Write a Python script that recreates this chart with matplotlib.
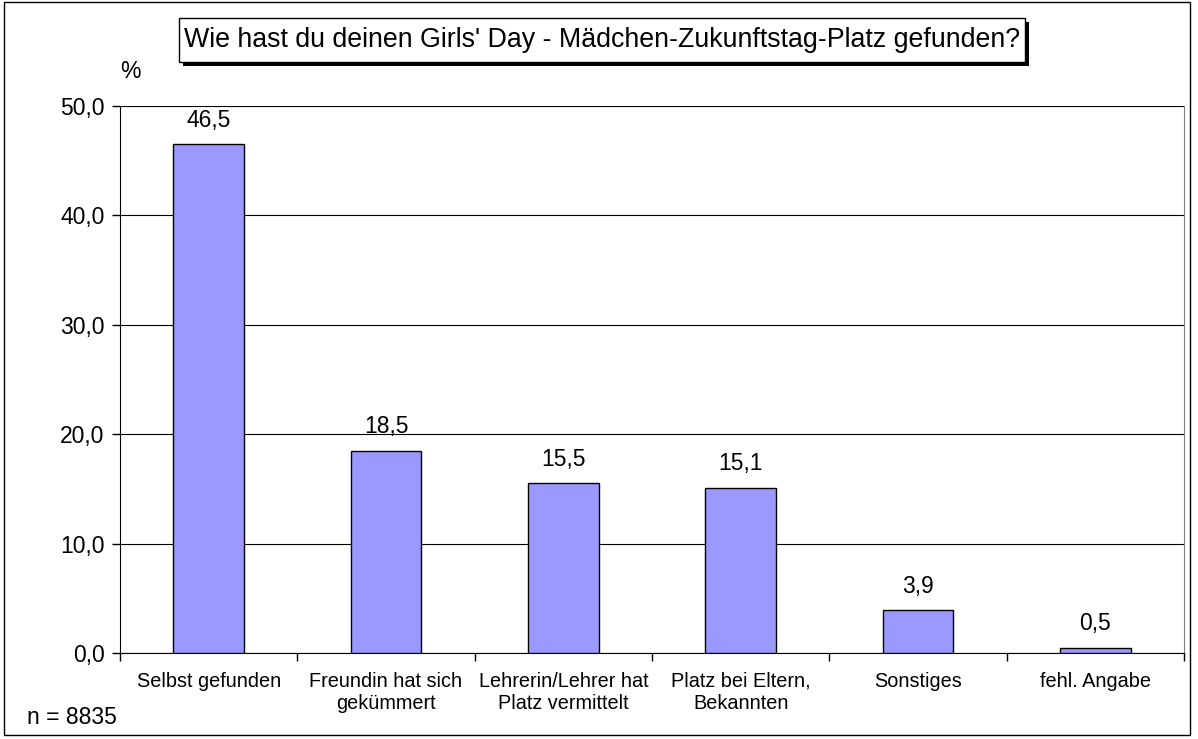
import matplotlib.pyplot as plt
from matplotlib.patches import Rectangle

plt.rcParams['font.family'] = ['Liberation Sans', 'DejaVu Sans']

categories = ["Selbst gefunden", "Freundin hat sich\ngekümmert", "Lehrerin/Lehrer hat\nPlatz vermittelt",
              "Platz bei Eltern,\nBekannten", "Sonstiges", "fehl. Angabe"]
values = [46.5, 18.5, 15.5, 15.1, 3.9, 0.5]
yticks = [0, 10, 20, 30, 40, 50]

fig = plt.figure(figsize=(11.98, 7.39), dpi=100)
ax = fig.add_axes([120 / 1198, 1 - 653 / 739, (1184 - 120) / 1198, (653 - 106) / 739])

x = range(len(categories))
ax.bar(x, values, width=0.4, color="#9999FF", edgecolor="black", linewidth=1, zorder=3)
for i, v in enumerate(values):
    ax.annotate(f"{v:.1f}".replace(".", ","), (i, v), xytext=(0, 9), textcoords="offset points",
                ha="center", va="bottom", fontsize=16.5)

ax.set_xlim(-0.5, len(categories) - 0.5)
ax.set_ylim(0, 50)
ax.set_yticks(yticks)
ax.set_yticklabels([f"{t:.1f}".replace(".", ",") for t in yticks], fontsize=16.5)
ax.yaxis.grid(True, color="black", linewidth=0.8, zorder=0)

# category labels sit between the boundary ticks
ax.set_xticks([i + 0.5 for i in range(-1, len(categories))])
ax.set_xticklabels([])
ax.tick_params(axis="x", direction="out", length=6, width=1)
ax.tick_params(axis="y", direction="out", length=6, width=1, pad=5)
for i, c in enumerate(categories):
    ax.text(i, -1.7, c, ha="center", va="top", fontsize=14.3, linespacing=1.2)

ax.spines["top"].set_visible(False)
ax.spines["right"].set_color("#808080")

fig.text(130 / 1198, 1 - 72 / 739, "%", fontsize=16.5, ha="center", va="center")
fig.text(27 / 1198, 1 - 718 / 739, "n = 8835", fontsize=16.5, ha="left", va="center")

# title box with shadow
fig.patches.append(Rectangle((183 / 1198, 1 - 66 / 739), 846 / 1198, 44 / 739,
                             transform=fig.transFigure, facecolor="black", edgecolor="none"))
fig.patches.append(Rectangle((179 / 1198, 1 - 62 / 739), 846 / 1198, 44 / 739,
                             transform=fig.transFigure, facecolor="white", edgecolor="black", linewidth=1))
fig.text(602 / 1198, 1 - 40 / 739, "Wie hast du deinen Girls' Day - Mädchen-Zukunftstag-Platz gefunden?",
         fontsize=19.3, ha="center", va="center")

# outer border
fig.patches.append(Rectangle((4 / 1198, 1 - 735 / 739), 1186 / 1198, 733 / 739,
                             transform=fig.transFigure, facecolor="none", edgecolor="black", linewidth=1))

fig.savefig("out.png", dpi=100)
